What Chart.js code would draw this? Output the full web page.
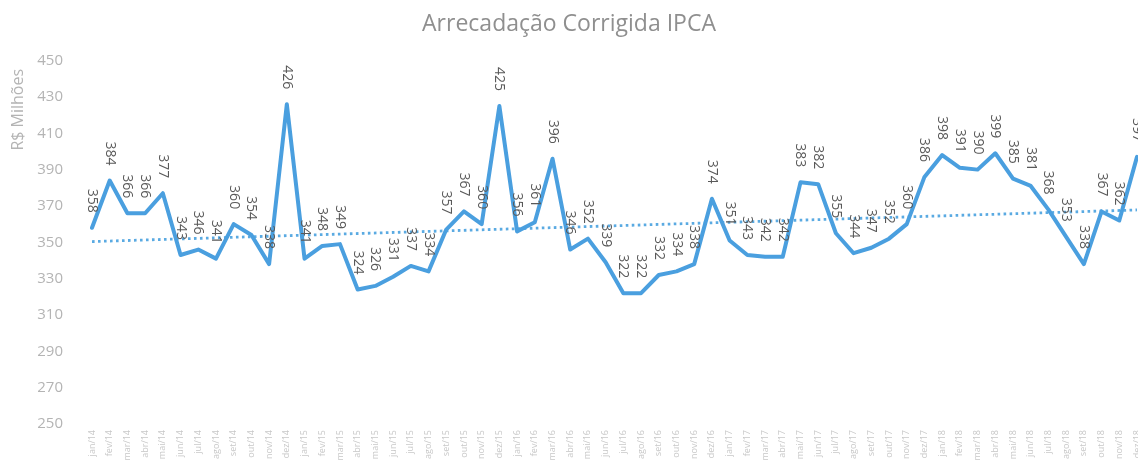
<!DOCTYPE html>
<html>
<head>
<meta charset="utf-8">
<script src="https://cdn.jsdelivr.net/npm/chart.js@4/dist/chart.umd.min.js"></script>
<style>
html,body{margin:0;padding:0;background:#fff;overflow:hidden;}
#wrap{width:1138px;height:462px;position:relative;}
</style>
</head>
<body>
<div id="wrap"><canvas id="c"></canvas></div>
<script>
const months = ["jan","fev","mar","abr","mai","jun","jul","ago","set","out","nov","dez"];
const years = ["14","15","16","17","18"];
const categories = [];
years.forEach(y => months.forEach(m => categories.push(m + "/" + y)));

const arrecadacao = [
  358,384,366,366,377,343,346,341,360,354,338,426,
  341,348,349,324,326,331,337,334,357,367,360,425,
  356,361,396,346,352,339,322,322,332,334,338,374,
  351,343,342,342,383,382,355,344,347,352,360,386,
  398,391,390,399,385,381,368,353,338,367,362,397
];
// trend line end points
const trendStart = 350.4;
const trendEnd = 367.8;
const trend = categories.map((_, i) => i === 0 ? trendStart : (i === categories.length - 1 ? trendEnd : null));

const yTicks = [250,270,290,310,330,350,370,390,410,430,450];

const labelPlugin = {
  id: 'vlabels',
  afterDatasetsDraw(chart) {
    const ctx = chart.ctx;
    const meta = chart.getDatasetMeta(0);
    ctx.save();
    ctx.font = '14px "Open Sans"';
    ctx.fillStyle = '#595959';
    ctx.textAlign = 'right';
    ctx.textBaseline = 'middle';
    meta.data.forEach((pt, i) => {
      ctx.save();
      ctx.translate(pt.x, pt.y - 15);
      ctx.rotate(Math.PI / 2);
      ctx.fillText(String(arrecadacao[i]), 0, 0);
      ctx.restore();
    });
    ctx.restore();
  }
};

new Chart(document.getElementById('c'), {
  type: 'line',
  data: {
    labels: categories,
    datasets: [
      {
        data: arrecadacao,
        borderColor: '#4a9fdf',
        borderWidth: 4,
        tension: 0,
        pointRadius: 0,
        borderJoinStyle: 'round',
        borderCapStyle: 'round',
        fill: false,
        order: 1
      },
      {
        data: trend,
        spanGaps: true,
        borderColor: '#5aaae2',
        borderWidth: 2.8,
        borderDash: [2.6, 3.4],
        pointRadius: 0,
        fill: false,
        order: 2
      }
    ]
  },
  options: {
    responsive: true,
    maintainAspectRatio: false,
    animation: false,
    layout: { padding: 0 },
    plugins: {
      legend: { display: false },
      tooltip: { enabled: false },
      title: {
        display: true,
        text: 'Arrecadação Corrigida IPCA',
        color: '#8f8f8f',
        font: { family: '"Open Sans"', size: 23, weight: 'normal' },
        padding: { top: 11, bottom: 22 }
      }
    },
    scales: {
      x: {
        offset: false,
        grid: { display: false, drawTicks: false },
        border: { display: false },
        afterFit(axis) { axis.height = 38; axis.paddingRight = 1; },
        ticks: {
          autoSkip: false,
          maxRotation: 90,
          minRotation: 90,
          color: '#c8c8c8',
          font: { family: '"Open Sans"', size: 9 },
          padding: 6
        }
      },
      y: {
        min: 250,
        max: 450,
        grid: { display: false, drawTicks: false },
        border: { display: false },
        afterFit(axis) { axis.width = 92; },
        afterBuildTicks(axis) { axis.ticks = yTicks.map(v => ({ value: v })); },
        ticks: {
          color: '#b4b4b4',
          font: { family: '"Open Sans"', size: 15 },
          padding: 29
        },
        title: {
          display: true,
          text: 'R$ Milhões  ',
          align: 'end',
          color: '#b4b4b4',
          font: { family: '"Open Sans"', size: 16 },
          padding: { top: 9, bottom: 9 }
        }
      }
    }
  },
  plugins: [labelPlugin]
});
</script>
</body>
</html>
